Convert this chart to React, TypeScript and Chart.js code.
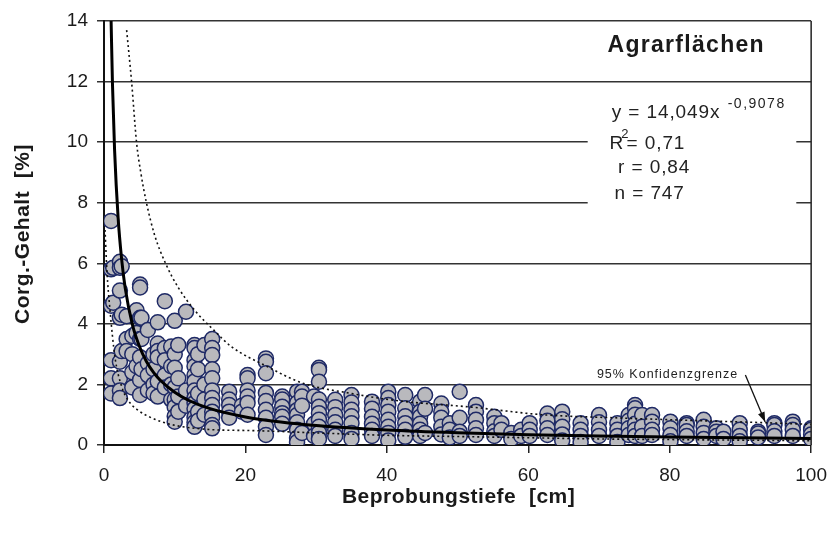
import React, { useEffect, useRef } from 'react';
import { Chart, registerables } from 'chart.js';

Chart.register(...registerables);

// ---- Data ----
const depthColumns = [
  1.0, 1.3, 2.25, 2.5, 3.2, 4.0, 4.6, 5.1, 5.3, 6.2, 7.0, 7.6, 8.6, 9.5, 10.0, 10.5, 11.6, 12.8, 13.3, 14.2,
  15.3, 17.7, 19.5, 20.3, 22.9, 25.2, 27.3, 28.0, 29.7, 30.4, 32.7, 35.0, 37.9, 40.2, 42.6, 44.7, 45.4, 47.7,
  48.9, 50.3, 52.6, 55.2, 56.2, 57.6, 59.0, 60.2, 62.7, 64.8, 67.4, 70.0, 72.6, 74.2, 75.1, 76.1, 77.5, 80.1,
  82.4, 84.8, 86.6, 87.6, 89.9, 92.5, 94.8, 97.4, 100.0,
];
const corgColumns = [
  [7.4, 5.8, 4.6, 2.8, 2.2, 1.7],
  [5.85, 4.7],
  [6.05, 5.85, 5.1, 4.2, 2.75, 2.2, 1.8, 1.55],
  [5.9, 4.3, 3.1],
  [4.25, 3.5, 3.1],
  [3.6, 3.0, 2.4, 1.9],
  [4.45, 3.7, 2.6],
  [5.3, 5.2, 4.2, 3.5, 2.9, 2.15, 1.65],
  [4.2, 3.5, 2.5],
  [3.8, 2.7, 2.3, 1.8],
  [3.0, 2.5, 2.0, 1.7],
  [4.05, 3.35, 3.1, 2.9, 2.1, 1.6],
  [4.75, 3.2, 2.8, 2.3, 1.9],
  [3.25, 2.6, 2.0, 1.5],
  [4.1, 3.0, 2.55, 1.9, 1.5, 1.25, 0.95, 0.77],
  [3.3, 2.2, 1.6, 1.1],
  [4.4, 1.8, 1.3],
  [3.3, 3.2, 2.8, 2.6, 2.3, 2.1, 1.8, 1.55, 1.39, 1.2, 0.92, 0.75, 0.6],
  [3.0, 2.5, 1.7, 1.1, 0.8],
  [3.3, 2.0, 1.5, 1.0],
  [3.5, 3.2, 2.97, 2.5, 2.2, 1.8, 1.55, 1.32, 1.1, 0.92, 0.66, 0.55],
  [1.76, 1.5, 1.32, 1.1, 0.9],
  [1.3, 1.1],
  [2.31, 2.2, 1.8, 1.6, 1.39, 1.0],
  [2.86, 2.75, 2.37, 1.72, 1.45, 1.16, 0.9, 0.6, 0.33],
  [1.6, 1.5, 1.26, 1.05, 0.93, 0.7],
  [1.76, 1.39, 1.15, 0.99, 0.75, 0.5, 0.23, 0.1],
  [1.76, 1.6, 1.3, 0.4],
  [1.6, 0.7, 0.3],
  [2.55, 2.48, 2.09, 1.5, 1.26, 1.05, 0.83, 0.6, 0.4, 0.2],
  [1.49, 1.25, 0.99, 0.75, 0.5, 0.3],
  [1.65, 1.4, 1.16, 0.95, 0.72, 0.4, 0.2],
  [1.43, 1.2, 0.93, 0.7, 0.5, 0.3],
  [1.76, 1.55, 1.32, 1.1, 0.83, 0.6, 0.4, 0.15],
  [1.65, 1.21, 0.95, 0.72, 0.5, 0.27],
  [1.43, 1.1, 0.93, 0.7, 0.5, 0.3],
  [1.65, 1.2, 0.4],
  [1.37, 1.1, 0.9, 0.6, 0.35],
  [0.72, 0.5, 0.25],
  [1.76, 0.9, 0.44, 0.3],
  [1.32, 1.1, 0.83, 0.55, 0.33],
  [0.93, 0.72, 0.45, 0.3],
  [0.72, 0.5],
  [0.4, 0.2],
  [0.5, 0.3],
  [0.72, 0.5, 0.3],
  [1.04, 0.8, 0.55, 0.33],
  [1.1, 0.85, 0.6, 0.35, 0.15],
  [0.72, 0.5, 0.3, 0.1],
  [0.99, 0.75, 0.5, 0.3],
  [0.72, 0.5, 0.3, 0.1],
  [0.99, 0.8, 0.55, 0.33],
  [1.32, 1.21, 1.0, 0.7, 0.5, 0.3],
  [0.99, 0.6, 0.3],
  [0.99, 0.77, 0.5, 0.33],
  [0.77, 0.55, 0.33, 0.12],
  [0.72, 0.66, 0.45, 0.3],
  [0.83, 0.6, 0.4, 0.2],
  [0.55, 0.44, 0.3],
  [0.44, 0.2],
  [0.72, 0.5, 0.3, 0.12],
  [0.44, 0.38, 0.25],
  [0.72, 0.66, 0.45, 0.3],
  [0.77, 0.66, 0.5, 0.3],
  [0.55, 0.5, 0.35, 0.2],
];

// Regression curve y = 14,049x^-0,9078
const fitDepth = [1.0, 1.2, 1.5, 2, 2.5, 3, 4, 5, 6, 7, 8, 10, 12, 15, 20, 25, 30, 40, 50, 60, 70, 80, 90, 100];
const fitCorg = [14.05, 11.9, 9.72, 7.49, 6.12, 5.18, 3.99, 3.26, 2.76, 2.4, 2.13, 1.74, 1.47, 1.2, 0.926, 0.756, 0.641, 0.493, 0.403, 0.342, 0.297, 0.263, 0.236, 0.215];

// 95% confidence limits
const upperDepth = [3.2, 3.9, 4.6, 5.2, 6.0, 7.2, 8.7, 10.5, 13, 15.5, 18, 23, 28, 35, 42, 52, 62, 72, 82, 93, 100];
const upperCorg = [13.7, 12.0, 10.0, 9.0, 8.0, 6.9, 6.0, 5.2, 4.4, 3.8, 3.25, 2.6, 2.05, 1.7, 1.45, 1.25, 1.0, 0.9, 0.82, 0.74, 0.68];
const lowerDepth = [0.15, 0.4, 0.85, 1.55, 2.5, 3.5, 4.8, 6.5, 8.1, 10, 12.5, 15.8, 20, 23.3, 30, 40, 50, 60, 70, 80, 90, 100];
const lowerCorg = [7.1, 5.8, 4.45, 2.9, 1.93, 1.45, 1.15, 0.92, 0.77, 0.65, 0.56, 0.5, 0.48, 0.46, 0.4, 0.32, 0.28, 0.24, 0.2, 0.18, 0.16, 0.14];

const xTickValues = [0, 20, 40, 60, 80, 100];
const yTickValues = [0, 2, 4, 6, 8, 10, 12, 14];

const titleText = 'Agrarflächen';
const eqMain = 'y = 14,049x';
const eqExp = '-0,9078';
const r2Text = '= 0,71';
const rText = 'r = 0,84';
const nText = 'n = 747';
const confText = '95% Konfidenzgrenze';
const xTitle = 'Beprobungstiefe  [cm]';
const yTitle = 'Corg.-Gehalt  [%]';

const FONT = '"Liberation Sans", Arial, sans-serif';

const toXY = (xs: number[], ys: number[]) => xs.map((x, i) => ({ x, y: ys[i] }));

const decorPlugin = {
  id: 'decor',
  afterDatasetsDraw(chart: any) {
    const { ctx, chartArea, scales } = chart;
    const X = (v: number) => scales.x.getPixelForValue(v);
    const Y = (v: number) => scales.y.getPixelForValue(v);
    ctx.save();

    // right frame line
    ctx.strokeStyle = '#222';
    ctx.lineWidth = 1.5;
    ctx.beginPath();
    ctx.moveTo(chartArea.right, chartArea.top);
    ctx.lineTo(chartArea.right, chartArea.bottom);
    ctx.stroke();

    // title
    ctx.fillStyle = '#1a1a1a';
    ctx.textBaseline = 'middle';
    ctx.textAlign = 'left';
    ctx.font = `bold 23px ${FONT}`;
    (ctx as any).letterSpacing = '1.3px';
    ctx.fillText(titleText, X(71.2), Y(13.19));

    // white box behind equation
    ctx.fillStyle = '#ffffff';
    ctx.fillRect(X(68.4), Y(11.75), X(97.9) - X(68.4), Y(7.7) - Y(11.75));

    ctx.fillStyle = '#222';
    ctx.font = `19px ${FONT}`;
    (ctx as any).letterSpacing = '0.9px';
    ctx.fillText(eqMain, X(71.8), Y(10.98));
    ctx.font = `14px ${FONT}`;
    (ctx as any).letterSpacing = '1.5px';
    ctx.fillText(eqExp, X(88.2), Y(11.25));
    ctx.font = `19px ${FONT}`;
    (ctx as any).letterSpacing = '0.9px';
    ctx.fillText('R', X(71.5), Y(9.96));
    ctx.font = `13px ${FONT}`;
    (ctx as any).letterSpacing = '0px';
    ctx.fillText('2', X(73.15), Y(10.26));
    ctx.font = `19px ${FONT}`;
    (ctx as any).letterSpacing = '0.9px';
    ctx.fillText(r2Text, X(73.9), Y(9.96));
    ctx.fillText(rText, X(72.7), Y(9.14));
    ctx.fillText(nText, X(72.2), Y(8.31));

    // confidence annotation
    ctx.font = `12.5px ${FONT}`;
    (ctx as any).letterSpacing = '1px';
    ctx.fillStyle = '#222';
    ctx.fillText(confText, X(69.7), Y(2.34));
    const x1 = X(90.7), y1 = Y(2.31), x2 = X(93.5), y2 = Y(0.76);
    ctx.strokeStyle = '#111';
    ctx.lineWidth = 1.3;
    ctx.beginPath();
    ctx.moveTo(x1, y1);
    ctx.lineTo(x2, y2);
    ctx.stroke();
    const ang = Math.atan2(y2 - y1, x2 - x1);
    ctx.fillStyle = '#111';
    ctx.beginPath();
    ctx.moveTo(x2, y2);
    ctx.lineTo(x2 - 10 * Math.cos(ang) + 3.5 * Math.sin(ang), y2 - 10 * Math.sin(ang) - 3.5 * Math.cos(ang));
    ctx.lineTo(x2 - 10 * Math.cos(ang) - 3.5 * Math.sin(ang), y2 - 10 * Math.sin(ang) + 3.5 * Math.cos(ang));
    ctx.closePath();
    ctx.fill();

    // axis titles
    (ctx as any).letterSpacing = '0.5px';
    ctx.fillStyle = '#1a1a1a';
    ctx.font = `bold 21px ${FONT}`;
    ctx.textAlign = 'center';
    ctx.fillText(xTitle, (chartArea.left + chartArea.right) / 2 + 1, 497);
    ctx.translate(23, 234);
    ctx.rotate(-Math.PI / 2);
    ctx.fillText(yTitle, 0, 0);
    ctx.restore();
  },
};

export default function App() {
  const ref = useRef<HTMLCanvasElement | null>(null);
  useEffect(() => {
    if (!ref.current) return;
    const points = depthColumns.flatMap((d, i) => corgColumns[i].map((v) => ({ x: d, y: v })));
    const chart = new Chart(ref.current, {
      type: 'scatter',
      data: {
        datasets: [
          {
            label: 'Regression',
            data: toXY(fitDepth, fitCorg),
            showLine: true,
            borderColor: '#000',
            borderWidth: 3,
            pointRadius: 0,
            cubicInterpolationMode: 'monotone',
            order: 0,
          } as any,
          {
            label: 'Obere Grenze',
            data: toXY(upperDepth, upperCorg),
            showLine: true,
            borderColor: '#111',
            borderWidth: 1.6,
            borderDash: [2, 3],
            pointRadius: 0,
            cubicInterpolationMode: 'monotone',
            order: 0,
          } as any,
          {
            label: 'Untere Grenze',
            data: toXY(lowerDepth, lowerCorg),
            showLine: true,
            borderColor: '#111',
            borderWidth: 1.6,
            borderDash: [2, 3],
            pointRadius: 0,
            cubicInterpolationMode: 'monotone',
            order: 0,
          } as any,
          {
            label: 'Proben',
            data: points,
            pointRadius: 7.5,
            pointBorderWidth: 1.5,
            backgroundColor: '#b9b9bd',
            borderColor: '#1f2a66',
            order: 1,
          } as any,
        ],
      },
      options: {
        animation: false,
        responsive: false,
        devicePixelRatio: 1,
        layout: { padding: { left: 0, top: 21, right: 22, bottom: 0 } },
        plugins: { legend: { display: false }, tooltip: { enabled: false } },
        scales: {
          x: {
            type: 'linear',
            min: 0,
            max: 100,
            afterFit: (s: any) => { s.height = 89; },
            afterBuildTicks: (s: any) => { s.ticks = xTickValues.map((v) => ({ value: v })); },
            ticks: { color: '#1a1a1a', font: { family: FONT, size: 19 }, padding: 11 },
            grid: { drawOnChartArea: false, drawTicks: true, tickLength: 8, color: '#222', lineWidth: 1.5 },
            border: { display: true, color: '#111', width: 2 },
          },
          y: {
            type: 'linear',
            min: 0,
            max: 14,
            afterFit: (s: any) => { s.width = 104; },
            afterBuildTicks: (s: any) => { s.ticks = yTickValues.map((v) => ({ value: v })); },
            ticks: { color: '#1a1a1a', font: { family: FONT, size: 19 }, padding: 9 },
            grid: { drawOnChartArea: true, drawTicks: true, tickLength: 7, color: '#333', lineWidth: 1.5 },
            border: { display: true, color: '#111', width: 2 },
          },
        },
      },
      plugins: [decorPlugin],
    });
    return () => chart.destroy();
  }, []);
  return (
    <div style={{ position: 'fixed', left: 0, top: 0, width: 838, height: 534, background: '#fff' }}>
      <canvas ref={ref} width={838} height={534} />
    </div>
  );
}
